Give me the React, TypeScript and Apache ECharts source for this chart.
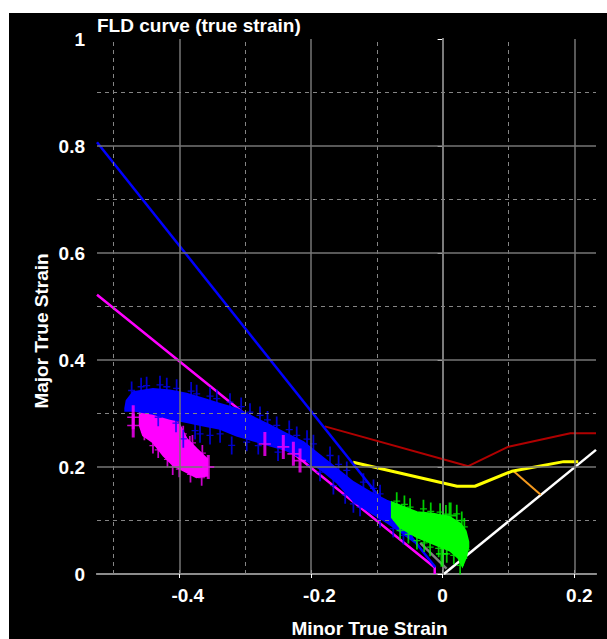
import React, { useEffect, useRef } from "react";
import * as echarts from "echarts";

// ---- data ----
const xTicks = [-0.4, -0.2, 0, 0.2];
const xMinor = [-0.5, -0.3, -0.1, 0.1];
const yMajor = [0.2, 0.4, 0.6, 0.8];
const yMinor = [0.1, 0.3, 0.5, 0.7, 0.9];

const blueLine = [[-0.525, 0.807], [-0.011, 0.0127]];
const magentaLine = [[-0.525, 0.522], [-0.012, 0.012], [-0.012, 0]];
const redLine = [[-0.179, 0.276], [0.039, 0.2015], [0.1, 0.238], [0.194, 0.263], [0.233, 0.263]];
const yellowLine = [[-0.136, 0.209], [0.022, 0.164], [0.049, 0.164], [0.105, 0.192], [0.184, 0.21], [0.206, 0.21]];
const orangeLine = [[0.108, 0.192], [0.149, 0.148]];
const grayLine = [[-0.034, 0.058], [0.006, 0.01]];
const whiteLine = [[0.002, 0], [0.233, 0.232]];

const blueUpper = [[-0.482, 0.31], [-0.48, 0.324], [-0.47, 0.34], [-0.44, 0.346], [-0.414, 0.343], [-0.389, 0.337], [-0.3635, 0.3275], [-0.338, 0.318], [-0.313, 0.309], [-0.2875, 0.293], [-0.262, 0.2776], [-0.237, 0.262], [-0.2115, 0.2464], [-0.186, 0.2215], [-0.161, 0.1966], [-0.1355, 0.1716], [-0.11, 0.153], [-0.085, 0.137], [-0.06, 0.125]];
const blueLower = [[-0.482, 0.305], [-0.47, 0.3056], [-0.44, 0.2994], [-0.414, 0.29], [-0.389, 0.284], [-0.3635, 0.2776], [-0.338, 0.2714], [-0.313, 0.259], [-0.2875, 0.2495], [-0.262, 0.24], [-0.237, 0.231], [-0.2115, 0.215], [-0.186, 0.1966], [-0.161, 0.1716], [-0.1355, 0.1364], [-0.11, 0.1155], [-0.085, 0.097], [-0.065, 0.08], [-0.045, 0.062]];
const blueSpikes = [[-0.4724, 0.343], [-0.4496, 0.352], [-0.4293, 0.3536], [-0.404, 0.347], [-0.3736, 0.3368], [-0.3533, 0.3324], [-0.323, 0.3212], [-0.2926, 0.3025], [-0.2774, 0.2963], [-0.252, 0.2776], [-0.2216, 0.2589], [-0.1963, 0.2433], [-0.171, 0.2215], [-0.1456, 0.1935], [-0.1203, 0.1717], [-0.095, 0.1498], [-0.3939, 0.2526], [-0.3685, 0.262], [-0.3533, 0.2589], [-0.3204, 0.2402], [-0.2976, 0.2464], [-0.1862, 0.1903], [-0.1659, 0.1654], [-0.1355, 0.1312], [-0.1254, 0.1249], [-0.095, 0.1031], [-0.0595, 0.072], [-0.458, 0.35], [-0.419, 0.35], [-0.382, 0.342], [-0.343, 0.328], [-0.306, 0.313], [-0.266, 0.288], [-0.233, 0.27], [-0.206, 0.252], [-0.158, 0.205], [-0.105, 0.16], [-0.432, 0.293], [-0.405, 0.282], [-0.376, 0.268], [-0.338, 0.262], [-0.28, 0.24], [-0.25, 0.228], [-0.2, 0.203], [-0.148, 0.148], [-0.075, 0.085]];

const magentaUpper = [[-0.46, 0.312], [-0.44, 0.309], [-0.424, 0.3025], [-0.409, 0.29], [-0.399, 0.2776], [-0.389, 0.2527], [-0.374, 0.234], [-0.358, 0.215]];
const magentaLower = [[-0.46, 0.2776], [-0.455, 0.259], [-0.44, 0.2464], [-0.424, 0.2215], [-0.409, 0.2028], [-0.394, 0.1935], [-0.374, 0.181], [-0.358, 0.184]];
const magentaSpikes = [[-0.45, 0.316], [-0.43, 0.312], [-0.4, 0.286], [-0.38, 0.245], [-0.365, 0.226], [-0.44, 0.24], [-0.41, 0.2], [-0.453, 0.265], [-0.432, 0.232], [-0.418, 0.214], [-0.4, 0.196], [-0.383, 0.186], [-0.366, 0.18], [-0.394, 0.262], [-0.416, 0.298], [-0.384, 0.243]];
const magentaCrosses = [[-0.47, 0.293], [-0.47, 0.2776], [-0.27, 0.243], [-0.242, 0.2375], [-0.2267, 0.2246], [-0.2166, 0.212], [-0.356, 0.2]];

const greenUpper = [[-0.077, 0.134], [-0.065, 0.128], [-0.039, 0.1155], [-0.014, 0.1125], [0.011, 0.106], [0.027, 0.094], [0.035, 0.08], [0.039, 0.06]];
const greenLower = [[-0.077, 0.106], [-0.065, 0.0875], [-0.039, 0.0688], [-0.014, 0.0564], [0.011, 0.0439], [0.024, 0.03], [0.03, 0.015], [0.035, 0.03], [0.039, 0.05]];
const greenSpikes = [[-0.0697, 0.1361], [-0.0494, 0.1249], [-0.0291, 0.1218], [-0.0038, 0.1156], [0.0215, 0.1125], [0.0291, 0.1], [-0.0646, 0.0813], [-0.039, 0.0626], [-0.019, 0.0501], [0.0063, 0.0377], [0.0266, 0.0159], [-0.058, 0.13], [-0.018, 0.117], [0.005, 0.112], [0.033, 0.088], [-0.052, 0.074], [-0.028, 0.058], [-0.006, 0.048], [0.017, 0.035], [0.036, 0.045]];
const greenCrosses = [[0.0114, 0.1093], [-0.001, 0.0377]];

const FONT = "Liberation Sans, Arial, sans-serif";
const PLUS = "path://M0.75,0H1.25V0.93H2V1.07H1.25V2H0.75V1.07H0V0.93H0.75Z";

function cloud(upper: number[][], lower: number[][], color: string, z: number) {
  return {
    type: "custom",
    coordinateSystem: "cartesian2d",
    data: [upper[0]],
    z,
    silent: true,
    clip: true,
    renderItem: (_p: any, api: any) => {
      const pts = [...upper, ...lower.slice().reverse()].map((p) => api.coord(p));
      return { type: "polygon", shape: { points: pts }, style: { fill: color, stroke: color, lineWidth: 2 } };
    },
  };
}

function marks(data: number[][], color: string, size: number[], z: number) {
  return {
    type: "scatter",
    data,
    z,
    silent: true,
    symbol: PLUS,
    symbolSize: size,
    symbolKeepAspect: false,
    itemStyle: { color },
  };
}

function line(data: number[][], color: string, width: number, z: number) {
  return { type: "line", data, z, silent: true, symbol: "none", lineStyle: { color, width } };
}

export default function App() {
  const ref = useRef<HTMLDivElement>(null);
  useEffect(() => {
    if (!ref.current) return;
    const chart = echarts.init(ref.current, undefined, { renderer: "svg" });
    const labelStyle = { color: "#ffffff", fontSize: 19, fontWeight: "bold" as const, fontFamily: FONT };
    const grid = (v: number, dashed: boolean, axis: "x" | "y") => ({
      [axis === "x" ? "xAxis" : "yAxis"]: v,
      lineStyle: dashed ? { color: "#858585", width: 1, type: [4, 4] } : { color: "#767676", width: 1.5, type: "solid" },
    });
    chart.setOption({
      animation: false,
      backgroundColor: "#000000",
      title: {
        text: "FLD curve (true strain)",
        left: 88,
        top: 3,
        padding: 0,
        textStyle: { ...labelStyle },
      },
      grid: { left: 88, top: 26, right: 11, bottom: 65 },
      xAxis: [
        {
          type: "value",
          min: -0.525,
          max: 0.233,
          position: "bottom",
          axisLine: { lineStyle: { color: "#dcdcdc", width: 1.5 } },
          axisTick: { inside: true, length: 4, customValues: xTicks, lineStyle: { color: "#ffffff" } },
          axisLabel: {
            customValues: xTicks,
            margin: 12,
            ...labelStyle,
            formatter: (v: number) => (v < 0 ? "{n|" + v + "}" : v > 0 ? "{p|" + v + "}" : "{z|0}"),
            rich: {
              n: { ...labelStyle, padding: [0, 0, 0, 17] },
              p: { ...labelStyle, padding: [0, 0, 0, 10] },
              z: { ...labelStyle },
            },
          },
          splitLine: { show: false },
        },
        {
          type: "value",
          min: -0.525,
          max: 0.233,
          position: "top",
          axisLine: { lineStyle: { color: "#8c8c8c", width: 2 } },
          axisTick: { inside: true, length: 4, customValues: xTicks, lineStyle: { color: "#ffffff" } },
          axisLabel: { show: false },
          splitLine: { show: false },
        },
      ],
      yAxis: [
        {
          type: "value",
          min: 0,
          max: 1,
          interval: 0.2,
          position: "left",
          axisLine: { show: true, lineStyle: { color: "#c8c8c8", width: 1.5 } },
          axisTick: { show: true, length: 5, lineStyle: { color: "#ffffff" } },
          axisLabel: { margin: 12, ...labelStyle, formatter: (v: number) => String(Math.round(v * 10) / 10) },
          splitLine: { show: false },
        },
        {
          type: "value",
          min: 0,
          max: 1,
          interval: 0.2,
          position: "right",
          axisLine: { show: true, lineStyle: { color: "#8c8c8c", width: 2 } },
          axisTick: { show: false },
          axisLabel: { show: false },
          splitLine: { show: false },
        },
      ],
      graphic: [
        {
          type: "text",
          x: 360.5,
          y: 606,
          style: { text: "Minor True Strain", fill: "#ffffff", font: "bold 19px " + FONT, align: "center", verticalAlign: "top" },
        },
        {
          type: "text",
          x: 32,
          y: 318,
          rotation: Math.PI / 2,
          style: { text: "Major True Strain", fill: "#ffffff", font: "bold 19px " + FONT, align: "center", verticalAlign: "middle" },
        },
      ],
      series: [
        {
          type: "line",
          data: [[0, 0]],
          symbol: "none",
          z: 1,
          silent: true,
          lineStyle: { width: 0 },
          markLine: {
            silent: true,
            symbol: ["none", "none"],
            label: { show: false },
            animation: false,
            data: [
              ...xTicks.map((v) => grid(v, false, "x")),
              ...xMinor.map((v) => grid(v, true, "x")),
              ...yMajor.map((v) => grid(v, false, "y")),
              ...yMinor.map((v) => grid(v, true, "y")),
            ],
          },
        },
        line(grayLine, "#808080", 2.5, 2),
        line(whiteLine, "#ffffff", 2.5, 2),
        line(orangeLine, "#f59a1e", 2, 2),
        line(yellowLine, "#ffff00", 3, 2),
        line(redLine, "#b00000", 2, 2),
        line(magentaLine, "#ff00ff", 2.5, 2),
        line(blueLine, "#0000ff", 2.5, 2),
        cloud(magentaUpper, magentaLower, "#ff00ff", 3),
        marks(magentaSpikes, "#ff00ff", [7, 16], 3),
        cloud(blueUpper, blueLower, "#0000ff", 4),
        marks(blueSpikes, "#0000ff", [7, 18], 4),
        marks(magentaCrosses, "#ff00ff", [12, 24], 5),
        cloud(greenUpper, greenLower, "#00ff00", 6),
        marks(greenSpikes, "#00ff00", [7, 18], 6),
        marks(greenCrosses, "#00ff00", [12, 26], 7),
      ],
    });
    return () => chart.dispose();
  }, []);
  return (
    <div
      ref={ref}
      style={{ position: "absolute", left: 9, top: 13, width: 598, height: 626, background: "#000" }}
    />
  );
}
